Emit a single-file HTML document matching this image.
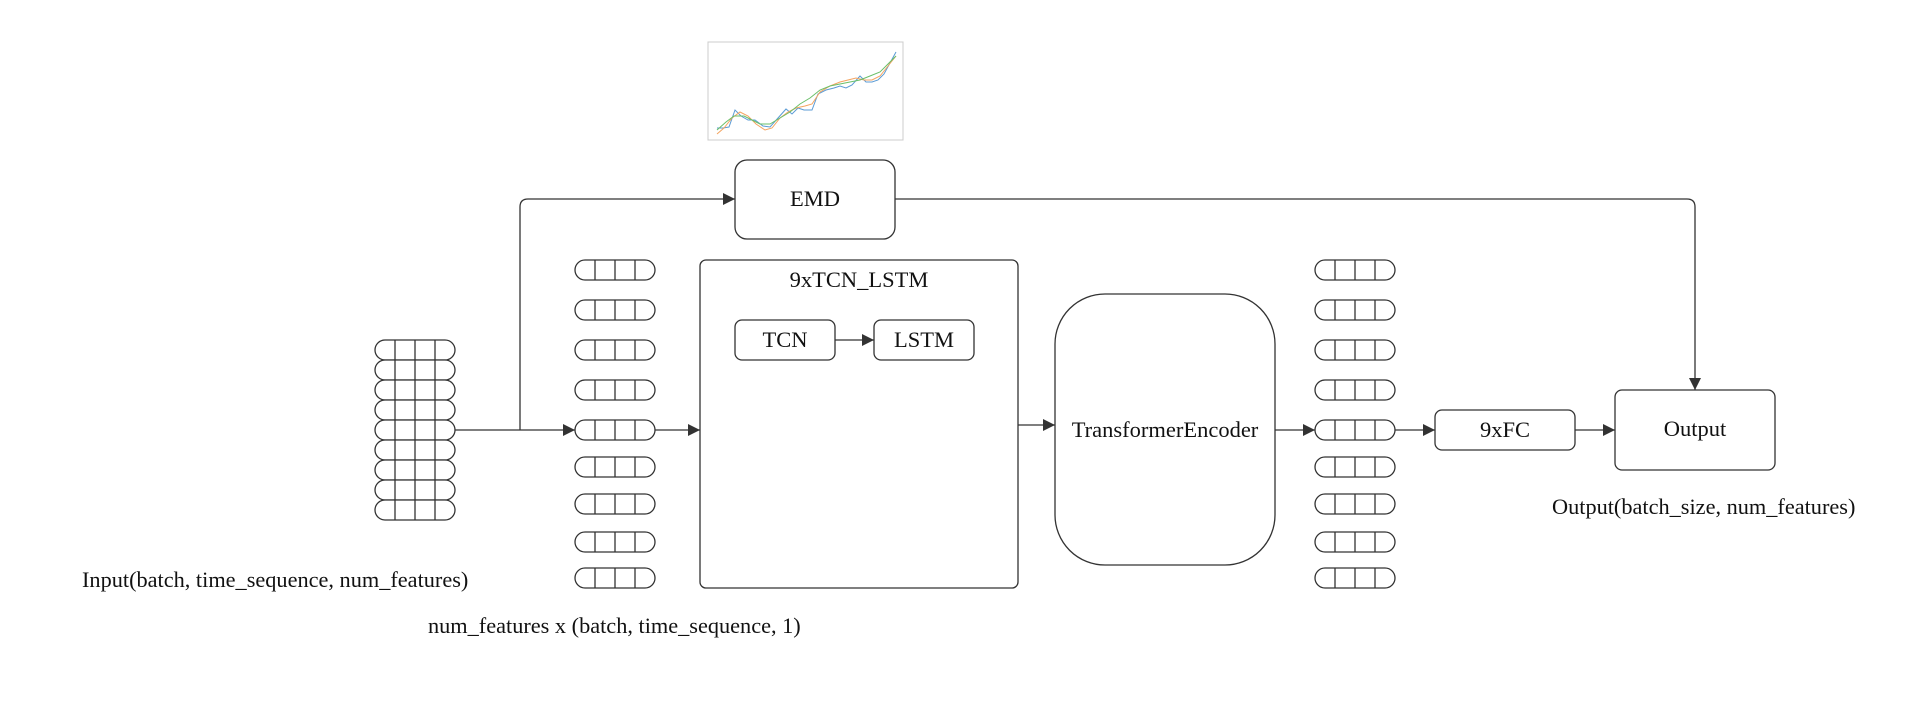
<!DOCTYPE html>
<html><head><meta charset="utf-8"><style>
html,body{margin:0;padding:0;background:#fff;}
svg{display:block;}
text{font-family:"Liberation Serif",serif;fill:#111;}
</style></head><body>
<svg width="1915" height="708" viewBox="0 0 1915 708" xmlns="http://www.w3.org/2000/svg">
<defs>
<marker id="b" viewBox="0 0 10 10" markerWidth="15" markerHeight="12" refX="10" refY="5" orient="auto" markerUnits="userSpaceOnUse"><path d="M0,0 L10,5 L0,10 z" fill="#333"/></marker>
<g id="cell">
<rect x="0" y="0" width="80" height="20" rx="10" fill="#fff" stroke="#333" stroke-width="1.3"/>
<line x1="20" y1="0" x2="20" y2="20" stroke="#333" stroke-width="1.3"/>
<line x1="40" y1="0" x2="40" y2="20" stroke="#333" stroke-width="1.3"/>
<line x1="60" y1="0" x2="60" y2="20" stroke="#333" stroke-width="1.3"/>
</g>
</defs>

<!-- chart -->
<rect x="708" y="42" width="195" height="98" fill="#fff" stroke="#ccc" stroke-width="1"/>
<g fill="none" stroke-width="1">
<polyline stroke="#5b9bd5" points="717,128 723,128 729,127 735,110 741,116 748,120 755,120 763,126 770,127 778,118 786,109 792,114 798,108 804,110 812,110 818,94 826,90 834,88 840,86 846,88 852,85 860,76 866,82 872,82 878,80 884,74 890,63 896,52"/>
<polyline stroke="#f4a460" points="717,134 724,128 732,118 740,112 748,116 756,124 765,130 772,128 780,118 788,112 796,108 805,106 812,104 820,92 830,86 840,82 848,80 856,78 864,80 872,80 880,76 888,66 896,56"/>
<polyline stroke="#6abf69" points="717,130 726,122 734,116 744,116 752,120 760,124 770,124 780,118 790,112 800,104 810,98 820,90 830,86 840,84 850,82 860,80 870,76 880,72 888,64 896,56"/>
</g>

<!-- connectors -->
<g stroke="#333" stroke-width="1.3" fill="none">
<line x1="455" y1="430" x2="575" y2="430" marker-end="url(#b)"/>
<path d="M520,430 V207 Q520,199 528,199 H735" marker-end="url(#b)"/>
<line x1="655" y1="430" x2="700" y2="430" marker-end="url(#b)"/>
<line x1="1018" y1="425" x2="1055" y2="425" marker-end="url(#b)"/>
<line x1="1275" y1="430" x2="1315" y2="430" marker-end="url(#b)"/>
<line x1="1395" y1="430" x2="1435" y2="430" marker-end="url(#b)"/>
<line x1="1575" y1="430" x2="1615" y2="430" marker-end="url(#b)"/>
<path d="M895,199 H1687 Q1695,199 1695,207 V390" marker-end="url(#b)"/>
</g>

<!-- left stack -->
<use href="#cell" x="375" y="340"/><use href="#cell" x="375" y="360"/><use href="#cell" x="375" y="380"/>
<use href="#cell" x="375" y="400"/><use href="#cell" x="375" y="420"/><use href="#cell" x="375" y="440"/>
<use href="#cell" x="375" y="460"/><use href="#cell" x="375" y="480"/><use href="#cell" x="375" y="500"/>

<!-- middle cells -->
<use href="#cell" x="575" y="260"/><use href="#cell" x="575" y="300"/><use href="#cell" x="575" y="340"/>
<use href="#cell" x="575" y="380"/><use href="#cell" x="575" y="420"/><use href="#cell" x="575" y="457"/>
<use href="#cell" x="575" y="494"/><use href="#cell" x="575" y="532"/><use href="#cell" x="575" y="568"/>

<!-- right cells -->
<use href="#cell" x="1315" y="260"/><use href="#cell" x="1315" y="300"/><use href="#cell" x="1315" y="340"/>
<use href="#cell" x="1315" y="380"/><use href="#cell" x="1315" y="420"/><use href="#cell" x="1315" y="457"/>
<use href="#cell" x="1315" y="494"/><use href="#cell" x="1315" y="532"/><use href="#cell" x="1315" y="568"/>

<!-- boxes -->
<g fill="#fff" stroke="#333" stroke-width="1.3">
<rect x="735" y="160" width="160" height="79" rx="12"/>
<rect x="700" y="260" width="318" height="328" rx="6"/>
<rect x="735" y="320" width="100" height="40" rx="7"/>
<rect x="874" y="320" width="100" height="40" rx="7"/>
<rect x="1055" y="294" width="220" height="271" rx="50"/>
<rect x="1435" y="410" width="140" height="40" rx="7"/>
<rect x="1615" y="390" width="160" height="80" rx="7"/>
</g>
<line x1="835" y1="340" x2="874" y2="340" stroke="#333" stroke-width="1.3" marker-end="url(#b)"/>

<g font-size="22.5" text-anchor="middle">
<text x="815" y="206">EMD</text>
<text x="859" y="287">9xTCN_LSTM</text>
<text x="785" y="347">TCN</text>
<text x="924" y="347">LSTM</text>
<text x="1165" y="437">TransformerEncoder</text>
<text x="1505" y="437">9xFC</text>
<text x="1695" y="436">Output</text>
</g>
<g font-size="22.3">
<text x="82" y="587">Input(batch, time_sequence, num_features)</text>
<text x="428" y="633">num_features x (batch, time_sequence, 1)</text>
<text x="1552" y="514">Output(batch_size, num_features)</text>
</g>
</svg>
</body></html>
